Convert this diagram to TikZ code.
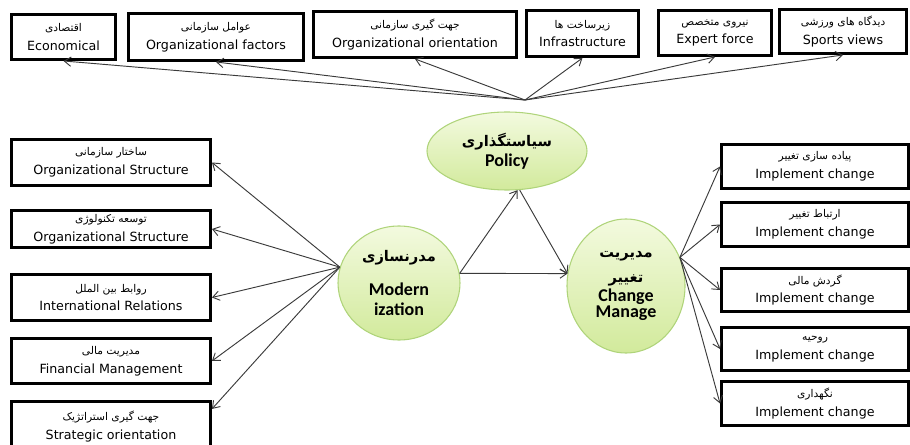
\documentclass[tikz,border=0pt]{standalone}
\usepackage{fontspec}
\setmainfont{DejaVu Sans}
\newfontfamily\arabicfont[Script=Arabic]{DejaVu Sans}
\newfontfamily\calibfont{Carlito}
\TeXXeTstate=1
\usetikzlibrary{shapes.geometric,arrows.meta}

\definecolor{bubbletop}{HTML}{F3FADF}
\definecolor{bubblebot}{HTML}{D2EA9C}
\definecolor{bubbleline}{HTML}{AFD47A}
\definecolor{arrowgray}{HTML}{3A3A3A}

\newcommand{\fa}[1]{{\arabicfont\fontsize{8}{9}\selectfont\beginR #1\endR}}
\newcommand{\fabig}[1]{{\arabicfont\bfseries\fontsize{11}{13}\selectfont\beginR #1\endR}}

\begin{document}
\begin{tikzpicture}[x=0.75pt,y=-0.75pt]
\useasboundingbox (0,0) rectangle (910,445);

    \coordinate (hubP) at (525,100);

\begin{scope}[every node/.style={ellipse,draw=bubbleline,line width=0.8pt,
              top color=bubbletop,bottom color=bubblebot,align=center,inner sep=0pt,
              font=\calibfont\bfseries\fontsize{13.5}{15}\selectfont}]
    \node[minimum width=120pt,minimum height=58.5pt] (pol) at (507,151) {\fabig{سیاستگذاری}\\Policy};
    \node[minimum width=91.5pt,minimum height=85.5pt] (mod) at (399,283) {\fabig{مدرنسازی}\\[10pt]Modern\\ization};
    \node[minimum width=88.5pt,minimum height=100.5pt] (chg) at (626,286) {\fabig{مدیریت}\\[4pt]\fabig{تغییر}\\[-1pt]Change\\[-3pt]Manage};
\end{scope}

\begin{scope}[every node/.style={draw=black,line width=2.2pt,rectangle,fill=white,
              align=center,inner sep=0pt,font=\fontsize{9.5}{14}\selectfont}]
    % top row
    \node[minimum width=78pt,minimum height=33.75pt] (eco) at (63.5,37) {\fa{اقتصادی}\\Economical};
    \node[minimum width=131.25pt,minimum height=35.25pt] (fac) at (216,37) {\fa{عوامل سازمانی}\\Organizational factors};
    \node[minimum width=152.25pt,minimum height=34.5pt] (ori) at (415,34.5) {\fa{جهت گیری سازمانی}\\Organizational orientation};
    \node[minimum width=84pt,minimum height=34.5pt] (inf) at (582.5,33.5) {\fa{زیرساخت ها}\\Infrastructure};
    \node[minimum width=84.75pt,minimum height=33.75pt] (exp) at (715,33) {\fa{نیروی متخصص}\\Expert force};
    \node[minimum width=95.25pt,minimum height=33pt] (spo) at (843,31.5) {\fa{دیدگاه های ورزشی}\\Sports views};
    % left column
    \node[minimum width=149.25pt,minimum height=34.5pt] (s1) at (111,162.5) {\fa{ساختار سازمانی}\\Organizational Structure};
    \node[minimum width=149.25pt,minimum height=27.75pt] (s2) at (111,229) {\fa{توسعه تکنولوژی}\\Organizational Structure};
    \node[minimum width=149.25pt,minimum height=34.5pt] (s3) at (111,297.5) {\fa{روابط بین الملل}\\International Relations};
    \node[minimum width=149.25pt,minimum height=33.75pt] (s4) at (111,361) {\fa{مدیریت مالی}\\Financial Management};
    \node[minimum width=149.25pt,minimum height=37.9pt] (s5) at (111,426.75) {\fa{جهت گیری استراتژیک}\\Strategic orientation};
    % right column
    \node[minimum width=140.25pt,minimum height=33pt] (r1) at (815,166.5) {\fa{پیاده سازی تغییر}\\Implement change};
    \node[minimum width=140.25pt,minimum height=33pt] (r2) at (815,224.5) {\fa{ارتباط تغییر}\\Implement change};
    \node[minimum width=140.25pt,minimum height=32.25pt] (r3) at (815,290) {\fa{گردش مالی}\\Implement change};
    \node[minimum width=140.25pt,minimum height=32.25pt] (r4) at (815,349) {\fa{روحیه}\\Implement change};
    \node[minimum width=140.25pt,minimum height=33pt] (r5) at (815,403.5) {\fa{نگهداری}\\Implement change};
\end{scope}

\begin{scope}[every edge/.style={draw=arrowgray,line width=0.7pt,
              -{Straight Barb[length=5pt,width=7pt]}}]
    \path (hubP) edge (eco.south);
    \path (hubP) edge (fac.south);
    \path (hubP) edge (ori.south);
    \path (hubP) edge (inf.south);
    \path (hubP) edge (exp.south);
    \path (hubP) edge (spo.south);

    \path (mod.165) edge (s1.east);
    \path (mod.165) edge (s2.east);
    \path (mod.165) edge (s3.east);
    \path (mod.165) edge (s4.east);
    \path (mod.165) edge (s5.10);

    \path (chg.28) edge (r1.west);
    \path (chg.28) edge (r2.west);
    \path (chg.28) edge (r3.west);
    \path (chg.28) edge (r4.west);
    \path (chg.28) edge (r5.west);

    \path (mod.9) edge (pol.-75);
    \path (pol.-72) edge (chg.168);
    \path (mod.9) edge (chg.168);
\end{scope}
\end{tikzpicture}
\end{document}
